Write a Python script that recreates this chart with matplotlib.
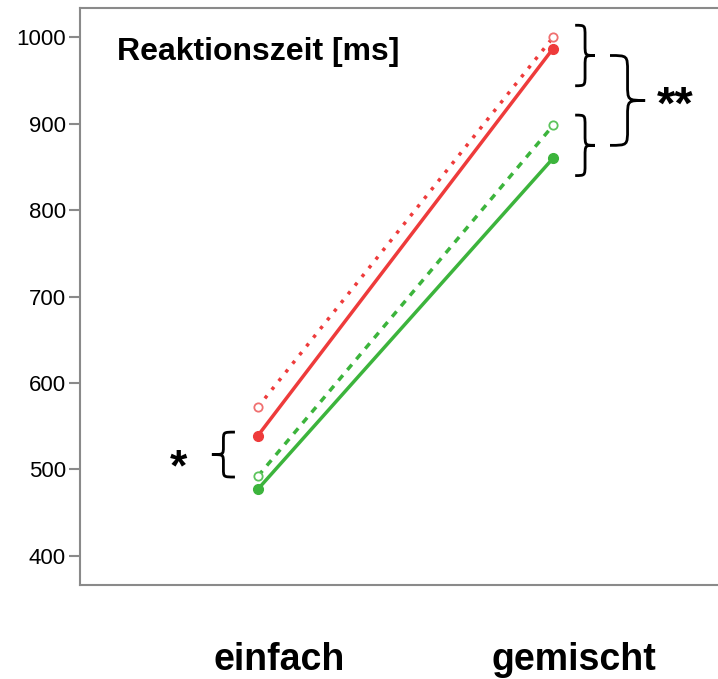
import matplotlib.pyplot as plt
from matplotlib.path import Path
from matplotlib.patches import PathPatch
import matplotlib.transforms as mtransforms

# Daten
bedingungen = ["einfach", "gemischt"]
rot_voll = [539, 987]      # rot, durchgezogen
rot_offen = [572, 1000]    # rot, gepunktet
gruen_offen = [492, 898]   # gruen, gestrichelt
gruen_voll = [477, 860]    # gruen, durchgezogen
y_ticks = [400, 500, 600, 700, 800, 900, 1000]

ROT = "#ee3b3b"
ROT_HELL = "#f07070"
GRUEN = "#3cb43c"
GRUEN_HELL = "#5cc45c"
GRAU = "#8a8a8a"

plt.rcParams['font.family'] = ['Liberation Sans', 'DejaVu Sans']


def klammer(ax, xa, xb, ylo, yhi, lw=2.0):
    # geschweifte Klammer, xa = offene Seite, xb = Spitze
    xm = (xa + xb) / 2
    ymid = (ylo + yhi) / 2
    d = (yhi - ylo) * 0.18
    verts = [
        (xa, yhi), (xm, yhi), (xm, yhi), (xm, yhi - d),
        (xm, ymid + d),
        (xm, ymid), (xm, ymid), (xb, ymid),
        (xm, ymid), (xm, ymid), (xm, ymid - d),
        (xm, ylo + d),
        (xm, ylo), (xm, ylo), (xa, ylo),
    ]
    codes = [Path.MOVETO, Path.CURVE4, Path.CURVE4, Path.CURVE4,
             Path.LINETO,
             Path.CURVE4, Path.CURVE4, Path.CURVE4,
             Path.CURVE4, Path.CURVE4, Path.CURVE4,
             Path.LINETO,
             Path.CURVE4, Path.CURVE4, Path.CURVE4]
    ax.add_patch(PathPatch(Path(verts, codes), fill=False, lw=lw,
                           color="black", clip_on=False))


fig = plt.figure(figsize=(7.18, 6.79), dpi=100)
ax = fig.add_axes([80 / 718, 1 - 585 / 679, 1 - 80 / 718, 577 / 679])

x = [0, 1]
ax.plot(x, rot_offen, color=ROT, lw=2.5, ls=(0, (1, 2.2)), marker="o",
        ms=6, mfc="white", mec=ROT_HELL, mew=1.3)
ax.plot(x, rot_voll, color=ROT, lw=2.5, marker="o", ms=7, mfc=ROT, mec=ROT)
ax.plot(x, gruen_offen, color=GRUEN, lw=2.5, ls=(0, (2, 2)), marker="o",
        ms=6, mfc="white", mec=GRUEN_HELL, mew=1.3)
ax.plot(x, gruen_voll, color=GRUEN, lw=2.5, marker="o", ms=7, mfc=GRUEN, mec=GRUEN)

ax.set_xlim(-0.603, 1.559)
ax.set_ylim(366, 1034)
ax.set_yticks(y_ticks)
ax.set_yticklabels([str(t) for t in y_ticks], fontsize=16)
ax.set_xticks([])
ax.tick_params(axis="y", length=8, width=1.5, color=GRAU, pad=2)
ax.spines["right"].set_visible(False)
for s in ["left", "top", "bottom"]:
    ax.spines[s].set_color(GRAU)
    ax.spines[s].set_linewidth(1.5)

ax.text(0.058, 0.924, "Reaktionszeit [ms]", transform=ax.transAxes,
        fontsize=23, fontweight="bold", ha="left", va="center")

trans = mtransforms.blended_transform_factory(ax.transData, ax.transAxes)
for xpos, name in zip([0.071, 1.07], bedingungen):
    ax.text(xpos, -0.13, name, transform=trans, fontsize=27,
            fontweight="bold", ha="center", va="center")

# Klammern rechts
klammer(ax, 1.075, 1.142, 944, 1014)
klammer(ax, 1.075, 1.142, 840, 910)
klammer(ax, 1.193, 1.312, 875, 979)
ax.text(1.414, 920, "**", fontsize=34, fontweight="bold", ha="center", va="center")

# Klammer links
klammer(ax, -0.078, -0.156, 491, 543)
ax.text(-0.27, 500, "*", fontsize=32, fontweight="bold", ha="center", va="center")

fig.savefig("out.png", dpi=100)
